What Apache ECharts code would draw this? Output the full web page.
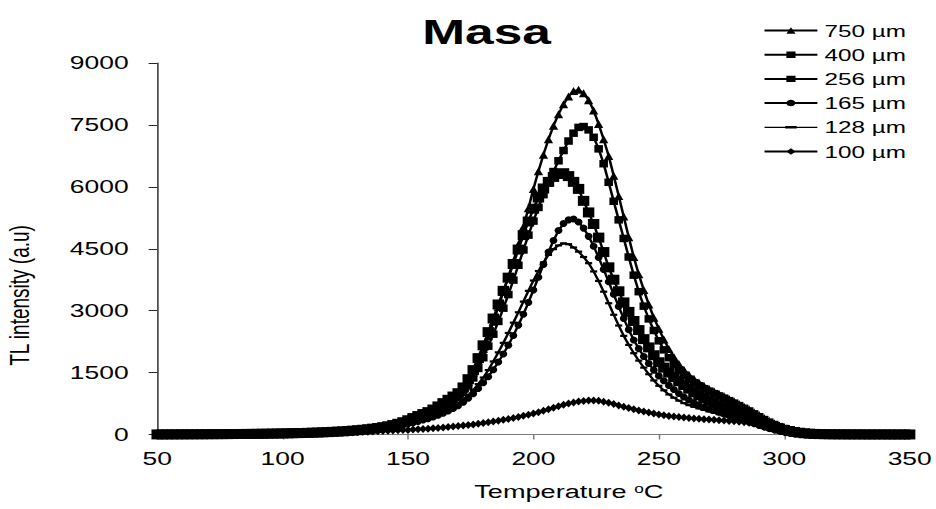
<!DOCTYPE html>
<html>
<head>
<meta charset="utf-8">
<title>Masa – TL glow curves</title>
<script src="https://cdn.jsdelivr.net/npm/echarts@6.0.0/dist/echarts.min.js"></script>
<style>
  html, body { margin: 0; padding: 0; background: #fff; overflow: hidden; }
  /* The chart is laid out on a narrower canvas and widened to 936px. */
  #chart { width: 655px; height: 509px; transform: scaleX(1.42901); transform-origin: 0 0; }
</style>
</head>
<body>
<div id="chart"></div>
<script>
// Temperature steps (°C) shared by all glow curves
const temperatures = [
  50, 52, 54, 56, 58, 60, 62, 64, 66, 68,
  70, 72, 74, 76, 78, 80, 82, 84, 86, 88,
  90, 92, 94, 96, 98, 100, 102, 104, 106, 108,
  110, 112, 114, 116, 118, 120, 122, 124, 126, 128,
  130, 132, 134, 136, 138,
  140, 142, 144, 146, 148, 150, 152, 154, 156, 158,
  160, 162, 164, 166, 168, 170, 172, 174, 176, 178,
  180, 182, 184, 186, 188, 190, 192, 194, 196, 198,
  200, 202, 204, 206, 208, 210, 212, 214, 216, 218,
  220, 222, 224, 226, 228, 230, 232, 234, 236, 238,
  240, 242, 244, 246, 248, 250, 252, 254, 256, 258,
  260, 262, 264, 266, 268, 270, 272, 274, 276, 278,
  280, 282, 284, 286, 288, 290, 292, 294, 296, 298,
  300, 302, 304, 306, 308, 310, 312, 314, 316, 318,
  320,
  322, 324, 326, 328, 330, 332, 334, 336, 338, 340, 342, 344, 346, 348, 350
];

const grainSizes = ['750 µm', '400 µm', '256 µm', '165 µm', '128 µm', '100 µm'];

// TL intensity (a.u) for each grain size
const tl750 = [
  3, 3, 3, 4, 4, 5, 5, 6, 6, 7,
  8, 8, 9, 10, 11, 12, 13, 14, 15, 16,
  18, 19, 21, 23, 25, 27, 30, 32, 35, 38,
  42, 46, 50, 54, 59, 64, 70, 77, 84, 92,
  101, 111, 122, 135, 152,
  172, 195, 222, 252, 288, 328, 372, 418, 465, 515,
  570, 635, 710, 795, 885, 985, 1110, 1280, 1500, 1780,
  2070, 2380, 2730, 3090, 3450, 3820, 4200, 4600, 5030, 5480,
  5950, 6380, 6780, 7150, 7480, 7760, 8000, 8190, 8320, 8350,
  8270, 8100, 7850, 7520, 7150, 6750, 6270, 5780, 5280, 4780,
  4300, 3880, 3500, 3150, 2830, 2560, 2300, 2070, 1880, 1710,
  1570, 1450, 1350, 1260, 1180, 1110, 1045, 985, 925, 865,
  805, 740, 675, 610, 540, 470, 400, 335, 275, 218,
  168, 128, 95, 68, 48, 34, 24, 17, 12, 9,
  7,
  6, 5, 4, 4, 3, 3, 3, 2, 2, 2, 2, 2, 1, 1, 1
];

const tl400 = [
  2, 2, 3, 3, 4, 4, 5, 5, 6, 6,
  7, 8, 8, 9, 10, 11, 12, 13, 14, 15,
  17, 18, 20, 22, 24, 26, 28, 31, 34, 37,
  40, 44, 48, 53, 58, 64, 70, 77, 85, 94,
  104, 115, 128, 142, 155,
  165, 186, 210, 238, 270, 305, 345, 388, 432, 478,
  528, 585, 650, 725, 810, 905, 1020, 1180, 1370, 1600,
  1860, 2140, 2430, 2740, 3060, 3390, 3740, 4100, 4470, 4830,
  5170, 5500, 5810, 6100, 6370, 6630, 6880, 7110, 7300, 7440,
  7460, 7380, 7200, 6920, 6560, 6110, 5650, 5200, 4750, 4300,
  3860, 3460, 3110, 2800, 2520, 2270, 2050, 1860, 1700, 1560,
  1440, 1340, 1255, 1180, 1110, 1050, 990, 935, 880, 820,
  760, 700, 635, 570, 500, 430, 362, 300, 242, 190,
  145, 108, 78, 55, 38, 27, 19, 13, 10, 8,
  6,
  5, 4, 4, 3, 3, 3, 2, 2, 2, 2, 2, 2, 1, 1, 1
];

const tl256 = [
  2, 2, 3, 3, 4, 4, 5, 5, 6, 6,
  7, 8, 8, 9, 10, 11, 12, 13, 14, 15,
  17, 18, 20, 22, 24, 26, 28, 31, 34, 37,
  40, 44, 48, 53, 58, 64, 70, 77, 85, 94,
  104, 115, 128, 142, 158,
  178, 200, 228, 260, 298, 345, 398, 447, 495, 542,
  605, 680, 760, 840, 920, 1000, 1140, 1340, 1560, 1850,
  2160, 2480, 2810, 3150, 3480, 3800, 4130, 4480, 4830, 5160,
  5470, 5740, 5960, 6120, 6240, 6310, 6330, 6260, 6120, 5950,
  5660, 5380, 5100, 4770, 4420, 4050, 3750, 3470, 3200, 2970,
  2750, 2530, 2310, 2110, 1920, 1750, 1620, 1500, 1390, 1290,
  1200, 1110, 1020, 950, 880, 820, 760, 705, 655, 605,
  560, 510, 455, 405, 355, 310, 265, 220, 180, 143,
  110, 83, 60, 43, 30, 20, 14, 10, 8, 6,
  5,
  4, 4, 3, 3, 3, 2, 2, 2, 2, 2, 1, 1, 1, 1, 1
];

const tl165 = [
  2, 2, 2, 3, 3, 4, 4, 5, 5, 6,
  6, 7, 8, 8, 9, 10, 11, 12, 13, 14,
  15, 17, 18, 20, 22, 24, 26, 28, 31, 34,
  37, 40, 44, 48, 52, 57, 62, 68, 75, 83,
  92, 102, 113, 125, 137,
  148, 166, 186, 208, 233, 260, 288, 318, 350, 385,
  425, 468, 515, 570, 632, 700, 780, 880, 990, 1115,
  1255, 1400, 1570, 1755, 1950, 2165, 2400, 2650, 2915, 3200,
  3500, 3810, 4120, 4420, 4700, 4940, 5110, 5200, 5220, 5150,
  5000, 4800, 4560, 4290, 4000, 3700, 3400, 3100, 2810, 2540,
  2290, 2080, 1890, 1720, 1560, 1420, 1300, 1190, 1090, 995,
  910, 835, 770, 712, 662, 620, 580, 540, 500, 460,
  420, 380, 340, 300, 260, 220, 180, 145, 115, 90,
  68, 50, 36, 26, 18, 13, 9, 7, 5, 4,
  3,
  3, 3, 2, 2, 2, 2, 2, 1, 1, 1, 1, 1, 1, 1, 1
];

const tl128 = [
  2, 2, 2, 3, 3, 4, 4, 5, 5, 6,
  6, 7, 8, 8, 9, 10, 11, 12, 13, 14,
  15, 17, 18, 20, 22, 24, 26, 28, 31, 34,
  37, 40, 44, 48, 52, 57, 62, 68, 75, 83,
  92, 102, 113, 125, 138,
  150, 170, 192, 216, 243, 272, 302, 335, 370, 410,
  455, 505, 560, 622, 688, 760, 845, 950, 1080, 1220,
  1380, 1560, 1770, 1990, 2220, 2460, 2710, 2960, 3220, 3480,
  3730, 3960, 4170, 4350, 4490, 4580, 4630, 4610, 4530, 4430,
  4300, 4150, 3950, 3720, 3460, 3180, 2900, 2640, 2390, 2170,
  1970, 1790, 1620, 1460, 1310, 1180, 1070, 970, 890, 820,
  760, 712, 670, 632, 595, 560, 527, 493, 460, 427,
  393, 360, 325, 290, 250, 210, 170, 135, 105, 80,
  60, 44, 32, 23, 16, 11, 8, 6, 5, 4,
  3,
  3, 2, 2, 2, 2, 2, 1, 1, 1, 1, 1, 1, 1, 1, 1
];

const tl100 = [
  1, 1, 1, 2, 2, 2, 2, 3, 3, 3,
  4, 4, 5, 5, 6, 6, 7, 7, 8, 9,
  10, 11, 12, 13, 14, 15, 17, 18, 20, 22,
  25, 27, 30, 33, 36, 40, 43, 47, 51, 55,
  60, 64, 69, 74, 79,
  85, 89, 94, 100, 106, 112, 119, 126, 133, 141,
  150, 159, 169, 180, 191, 203, 216, 230, 245, 261,
  278, 296, 315, 335, 356, 378, 401, 426, 452, 480,
  510, 542, 576, 612, 648, 684, 718, 750, 777, 798,
  813, 822, 825, 815, 795, 768, 738, 705, 672, 640,
  610, 582, 555, 530, 507, 486, 467, 450, 435, 422,
  410, 399, 389, 380, 371, 363, 355, 347, 339, 330,
  321, 311, 299, 286, 271, 254, 234, 212, 188, 163,
  138, 113, 90, 70, 53, 39, 28, 20, 14, 10,
  7,
  5, 4, 3, 3, 2, 2, 2, 1, 1, 1, 1, 1, 1, 0, 0
];

const xTicks = [50, 100, 150, 200, 250, 300, 350];
const yTicks = [0, 1500, 3000, 4500, 6000, 7500, 9000];

const curves = [tl750, tl400, tl256, tl165, tl128, tl100];

// Marker per grain size, in the narrow layout units
const markers = [
  { symbol: 'triangle', size: [6.5, 8] },
  { symbol: 'rect', size: [6, 7.5] },
  { symbol: 'rect', size: [8, 10] },
  { symbol: 'circle', size: [5.5, 7] },
  { symbol: 'rect', size: [5, 2.2] },
  { symbol: 'diamond', size: [5.5, 8] }
];

// The 128 µm curve only carries short dashes, so its key is a line with a small bar
const dashKeyIcon = 'path://M0,0M37,8M0,3.4H37V4.6H0ZM14.5,2.8H22.5V5.2H14.5Z';

const FONT = '"Liberation Sans", Arial, Helvetica, sans-serif';

const chart = echarts.init(document.getElementById('chart'), null, { renderer: 'svg' });

chart.setOption({
  animation: false,
  backgroundColor: '#fff',
  title: {
    text: 'Masa',
    left: 335.5,
    top: 8,
    textAlign: 'center',
    textStyle: { fontSize: 36, fontWeight: 'bold', color: '#000', fontFamily: FONT }
  },
  legend: {
    orient: 'vertical',
    left: 534,
    top: 22,
    padding: 0,
    itemWidth: 37,
    itemHeight: 8,
    itemGap: 7.2,
    data: grainSizes.map((name, k) => (k === 4 ? { name: name, icon: dashKeyIcon } : { name: name })),
    textStyle: { fontSize: 17, lineHeight: 17, color: '#000', fontFamily: FONT }
  },
  grid: { left: 110, right: 18.2, top: 63, bottom: 74.5, containLabel: false },
  xAxis: {
    type: 'value',
    min: xTicks[0],
    max: xTicks[xTicks.length - 1],
    interval: xTicks[1] - xTicks[0],
    axisLine: { lineStyle: { color: '#7a7a7a', width: 1 } },
    axisTick: { show: true, length: 5, lineStyle: { color: '#7a7a7a' } },
    axisLabel: { fontSize: 18.5, color: '#000', margin: 15, fontFamily: FONT },
    splitLine: { show: false }
  },
  yAxis: {
    type: 'value',
    min: yTicks[0],
    max: yTicks[yTicks.length - 1],
    interval: yTicks[1] - yTicks[0],
    axisLine: { show: true, lineStyle: { color: '#262626', width: 1 } },
    axisTick: { show: true, length: 6, lineStyle: { color: '#262626' } },
    axisLabel: {
      fontSize: 18.5,
      color: '#000',
      margin: 20,
      fontFamily: FONT,
      formatter: (v) => String(v)
    },
    splitLine: { show: false }
  },
  graphic: [
    {
      type: 'text',
      x: 14,
      y: 295.5,
      rotation: Math.PI / 2,
      style: {
        text: 'TL intensity (a.u)',
        fontSize: 19,
        fontFamily: FONT,
        fill: '#000',
        align: 'center',
        verticalAlign: 'middle'
      }
    },
    {
      type: 'text',
      x: 398,
      y: 492,
      style: {
        text: 'Temperature {s|o}C',
        fontSize: 19,
        fontFamily: FONT,
        fill: '#000',
        align: 'center',
        verticalAlign: 'middle',
        rich: {
          s: { fontSize: 12, fontFamily: FONT, fill: '#000', verticalAlign: 'top', lineHeight: 19 }
        }
      }
    }
  ],
  series: grainSizes.map((name, k) => ({
    name: name,
    type: 'line',
    data: temperatures.map((t, i) => [t, curves[k][i]]),
    symbol: markers[k].symbol,
    symbolSize: markers[k].size,
    showSymbol: true,
    clip: false,
    lineStyle: { color: '#000', width: 1.8 },
    itemStyle: { color: '#000' },
    emphasis: { disabled: true }
  }))
});
</script>
</body>
</html>
